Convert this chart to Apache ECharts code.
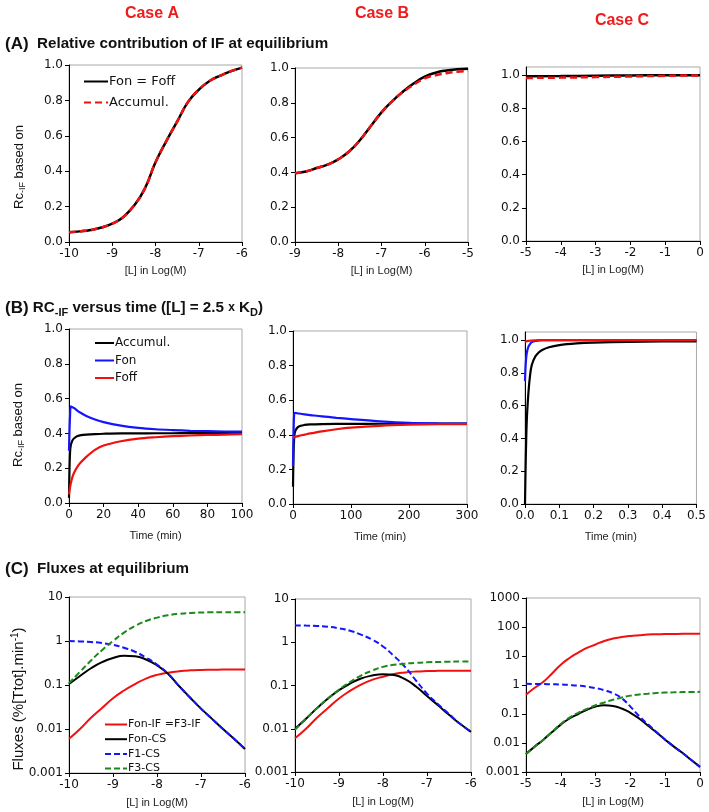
<!DOCTYPE html>
<html><head><meta charset="utf-8">
<script src="https://cdn.jsdelivr.net/npm/echarts@6/dist/echarts.min.js"></script>
<style>html,body{margin:0;padding:0;background:#fff}#c{width:709px;height:812px}</style>
</head><body><div id="c"></div>
<script>
// ---------- DATA ----------
// Row A: relative contribution of IF at equilibrium
const aX1 = [-10,-9.75,-9.5,-9.25,-9,-8.75,-8.5,-8.25,-8,-7.75,-7.5,-7.25,-7,-6.75,-6.5,-6.25,-6];
const aFon1 = [0.055,0.06,0.068,0.082,0.104,0.14,0.205,0.3,0.45,0.57,0.68,0.79,0.86,0.91,0.94,0.965,0.985];
const aAcc1 = [0.055,0.06,0.068,0.082,0.104,0.14,0.205,0.3,0.45,0.57,0.68,0.79,0.86,0.91,0.94,0.965,0.985];
const aX2 = [-9,-8.75,-8.5,-8.25,-8,-7.75,-7.5,-7.25,-7,-6.75,-6.5,-6.25,-6,-5.75,-5.5,-5.25,-5];
const aFon2 = [0.395,0.405,0.425,0.445,0.475,0.52,0.585,0.665,0.745,0.81,0.865,0.912,0.95,0.973,0.986,0.993,0.996];
const aAcc2 = [0.395,0.405,0.425,0.445,0.475,0.52,0.585,0.665,0.745,0.81,0.862,0.905,0.94,0.958,0.97,0.978,0.983];
const aX3 = [-5,-4,-3,-2,-1,0];
const aFon3 = [0.994,0.995,0.997,0.999,1.0,1.0];
const aAcc3 = [0.984,0.986,0.989,0.993,0.997,0.999];
// Row B: RC-IF versus time
const bT1 = [0,0.3,0.6,1,2,3,5,7,10,15,20,30,40,50,60,70,80,90,100];
const bAcc1 = [0.03,0.2,0.29,0.33,0.36,0.372,0.385,0.39,0.393,0.396,0.398,0.4,0.4,0.401,0.401,0.402,0.402,0.403,0.404];
const bFon1 = [0.3,0.42,0.5,0.555,0.55,0.545,0.53,0.517,0.5,0.48,0.465,0.445,0.432,0.424,0.419,0.415,0.413,0.411,0.41];
const bFoff1 = [0.05,0.07,0.09,0.11,0.15,0.175,0.21,0.235,0.265,0.305,0.33,0.355,0.37,0.378,0.384,0.388,0.391,0.393,0.395];
const bT2 = [0,1,2,3,5,10,20,30,50,75,100,150,200,250,300];
const bAcc2 = [0.1,0.3,0.38,0.41,0.43,0.448,0.457,0.46,0.462,0.463,0.463,0.464,0.464,0.465,0.465];
const bFon2 = [0.22,0.42,0.52,0.527,0.526,0.523,0.518,0.514,0.506,0.498,0.491,0.478,0.469,0.466,0.465];
const bFoff2 = [0.385,0.385,0.386,0.387,0.389,0.394,0.401,0.408,0.42,0.432,0.441,0.452,0.458,0.461,0.462];
const bT3 = [0,0.002,0.005,0.01,0.015,0.02,0.03,0.04,0.05,0.07,0.1,0.15,0.2,0.3,0.4,0.5];
const bAcc3 = [0,0.25,0.5,0.68,0.79,0.85,0.9,0.925,0.94,0.957,0.97,0.98,0.985,0.99,0.992,0.993];
const bFon3 = [0.75,0.85,0.92,0.96,0.978,0.988,0.995,0.998,1.0,1.0,1.0,1.0,1.0,1.0,1.0,1.0];
const bFoff3 = [0.99,0.992,0.994,0.996,0.997,0.998,0.999,1.0,1.0,1.0,1.0,1.0,1.0,1.0,1.0,1.0];
// Row C: fluxes at equilibrium
const cX1 = [-10,-9.75,-9.5,-9.25,-9,-8.75,-8.5,-8.25,-8,-7.75,-7.5,-7.25,-7,-6.75,-6.5,-6.25,-6];
const cIF1 = [0.006,0.01,0.018,0.03,0.05,0.075,0.105,0.14,0.17,0.19,0.205,0.215,0.22,0.222,0.224,0.225,0.225];
const cCS1 = [0.105,0.16,0.24,0.33,0.41,0.46,0.45,0.38,0.28,0.18,0.095,0.052,0.029,0.017,0.01,0.006,0.0035];
const cF1_1 = [1.0,0.98,0.95,0.9,0.82,0.7,0.57,0.42,0.29,0.18,0.095,0.052,0.029,0.017,0.01,0.006,0.0035];
const cF3_1 = [0.11,0.2,0.36,0.62,1.0,1.55,2.2,2.85,3.4,3.85,4.15,4.35,4.45,4.5,4.52,4.53,4.53];
const cX2 = [-10,-9.75,-9.5,-9.25,-9,-8.75,-8.5,-8.25,-8,-7.75,-7.5,-7.25,-7,-6.75,-6.5,-6.25,-6];
const cIF2 = [0.006,0.01,0.018,0.03,0.05,0.075,0.105,0.135,0.16,0.185,0.2,0.21,0.215,0.218,0.22,0.22,0.22];
const cCS2 = [0.01,0.017,0.03,0.05,0.078,0.11,0.145,0.17,0.183,0.175,0.14,0.095,0.057,0.035,0.021,0.013,0.0085];
const cF1_2 = [2.45,2.43,2.38,2.28,2.1,1.85,1.5,1.15,0.8,0.48,0.27,0.13,0.065,0.037,0.022,0.013,0.0085];
const cF3_2 = [0.0095,0.017,0.03,0.05,0.08,0.12,0.17,0.22,0.27,0.3,0.32,0.335,0.345,0.35,0.355,0.358,0.36];
const cX3 = [-5,-4.75,-4.5,-4.25,-4,-3.75,-3.5,-3.25,-3,-2.75,-2.5,-2.25,-2,-1.75,-1.5,-1.25,-1,-0.75,-0.5,-0.25,0];
const cIF3 = [0.46,0.8,1.3,2.5,5.0,8.5,13,19,25,33,40,45,49,52,55,56,57,57.5,58,58,58];
const cCS3 = [0.0042,0.0075,0.013,0.024,0.043,0.07,0.1,0.14,0.18,0.2,0.19,0.155,0.11,0.07,0.04,0.023,0.013,0.0075,0.0045,0.0026,0.0015];
const cF1_3 = [1.1,1.09,1.08,1.06,1.04,1.0,0.95,0.88,0.78,0.66,0.52,0.35,0.18,0.085,0.045,0.024,0.013,0.0075,0.0045,0.0026,0.0015];
const cF3_3 = [0.0042,0.0075,0.013,0.024,0.045,0.075,0.11,0.15,0.2,0.25,0.31,0.37,0.43,0.47,0.5,0.53,0.55,0.56,0.57,0.575,0.58];
// tick labels
const rcTicks = [0,0.2,0.4,0.6,0.8,1.0];

// ---------- CHART ----------
const TICKF = 'DejaVu Sans', TXTF = 'Liberation Sans';
const BLACK = '#000', RED = '#f01010', BLUE = '#1414ff', GREEN = '#1b8a1b';
const zip = (xs, ys) => xs.map((x, i) => [x, ys[i]]);

const grids = [
  {left:69, top:65, width:173, height:177},
  {left:295, top:68, width:173, height:174},
  {left:526, top:67, width:174, height:174},
  {left:69, top:329, width:173, height:174},
  {left:293, top:331, width:174, height:173},
  {left:525, top:332, width:174, height:172},
  {left:69, top:597, width:176, height:176},
  {left:295, top:599, width:176, height:173},
  {left:526, top:598, width:174, height:174}
].map(g => Object.assign(g, {show:true, borderColor:'#a8a8a8', borderWidth:1, containLabel:false}));

function xAx(i, min, max, interval, name, gap, fmt) {
  return {gridIndex:i, type:'value', min, max, interval,
    axisLine:{onZero:false, lineStyle:{color:'#000', width:1}},
    axisTick:{length:4, lineStyle:{color:'#000'}},
    axisLabel:{fontFamily:TICKF, fontSize:12, color:'#111', margin:6, formatter:fmt},
    splitLine:{show:false},
    name, nameLocation:'middle', nameGap:gap,
    nameTextStyle:{fontFamily:TXTF, fontSize:11, color:'#222'}};
}
function yLin(i, max, custom) {
  const ax = {gridIndex:i, type:'value', min:0, max, interval:0.2,
    axisLine:{onZero:false, lineStyle:{color:'#000', width:1}},
    axisTick:{length:4, lineStyle:{color:'#000'}},
    axisLabel:{fontFamily:TICKF, fontSize:12, color:'#111', margin:6, formatter:v => v.toFixed(1)},
    splitLine:{show:false}};
  if (custom) { ax.axisLabel.customValues = rcTicks; ax.axisTick.customValues = rcTicks; }
  return ax;
}
function yLog(i, max) {
  return {gridIndex:i, type:'log', logBase:10, min:0.001, max,
    axisLine:{onZero:false, lineStyle:{color:'#000', width:1}},
    axisTick:{length:4, lineStyle:{color:'#000'}},
    axisLabel:{fontFamily:TICKF, fontSize:12, color:'#111', margin:6, formatter:v => String(+(+v).toPrecision(2))},
    splitLine:{show:false}};
}
const intFmt = v => String(Math.round(v));
const t1Fmt = v => v.toFixed(1);
const LN = '[L] in Log(M)', TM = 'Time (min)';

const xAxis = [
  xAx(0,-10,-6,1,LN,23,intFmt), xAx(1,-9,-5,1,LN,23,intFmt), xAx(2,-5,0,1,LN,23,intFmt),
  xAx(3,0,100,20,TM,27,intFmt), xAx(4,0,300,100,TM,27,intFmt), xAx(5,0,0.5,0.1,TM,27,t1Fmt),
  xAx(6,-10,-6,1,LN,24,intFmt), xAx(7,-10,-6,1,LN,24,intFmt), xAx(8,-5,0,1,LN,24,intFmt)
];
const yAxis = [
  yLin(0,1.0), yLin(1,1.0), yLin(2,1.05,true),
  yLin(3,1.0), yLin(4,1.0), yLin(5,1.05,true),
  yLog(6,10), yLog(7,10), yLog(8,1000)
];

function ln(name, i, xs, ys, color, dash, w, sm) {
  return {type:'line', name, xAxisIndex:i, yAxisIndex:i, data:zip(xs, ys),
    symbol:'none', showSymbol:false, smooth: sm === undefined ? 0.5 : sm, silent:true, animation:false,
    lineStyle:{color, width:w || 2, type: dash || 'solid'}, itemStyle:{color}};
}
const DA = [7,4], DC = [6,3];
const series = [
  ln('A:Fon = Foff',0,aX1,aFon1,BLACK,null,2.5), ln('A:Accumul.',0,aX1,aAcc1,RED,DA,2.5),
  ln('a2:fon',1,aX2,aFon2,BLACK,null,2.5), ln('a2:acc',1,aX2,aAcc2,RED,DA,2.5),
  ln('a3:fon',2,aX3,aFon3,BLACK,null,2.5), ln('a3:acc',2,aX3,aAcc3,RED,DA,2.5),
  ln('B:Accumul.',3,bT1,bAcc1,BLACK,null,2.2,0.3), ln('B:Fon',3,bT1,bFon1,BLUE,null,2.2,0.3), ln('B:Foff',3,bT1,bFoff1,RED,null,2.2,0.3),
  ln('b2:acc',4,bT2,bAcc2,BLACK,null,2.2,0.3), ln('b2:fon',4,bT2,bFon2,BLUE,null,2.2,0.3), ln('b2:foff',4,bT2,bFoff2,RED,null,2.2,0.3),
  ln('b3:acc',5,bT3,bAcc3,BLACK,null,2.2,0.3), ln('b3:fon',5,bT3,bFon3,BLUE,null,2.2,0.3), ln('b3:foff',5,bT3,bFoff3,RED,null,2.2,0.3),
  ln('C:Fon-IF =F3-IF',6,cX1,cIF1,RED), ln('C:Fon-CS',6,cX1,cCS1,BLACK), ln('C:F1-CS',6,cX1,cF1_1,BLUE,DC), ln('C:F3-CS',6,cX1,cF3_1,GREEN,DC),
  ln('c2:if',7,cX2,cIF2,RED), ln('c2:cs',7,cX2,cCS2,BLACK), ln('c2:f1',7,cX2,cF1_2,BLUE,DC), ln('c2:f3',7,cX2,cF3_2,GREEN,DC),
  ln('c3:if',8,cX3,cIF3,RED), ln('c3:cs',8,cX3,cCS3,BLACK), ln('c3:f1',8,cX3,cF1_3,BLUE,DC), ln('c3:f3',8,cX3,cF3_3,GREEN,DC)
];

const lfmt = n => n.split(':')[1];
function lg(left, top, data, iw, ih, gap, fs) {
  return {left, top, orient:'vertical', data, itemWidth:iw, itemHeight:ih, itemGap:gap,
    selectedMode:false, formatter:lfmt, padding:0,
    itemStyle:{opacity:0, color:'transparent', borderWidth:0},
    textStyle:{fontFamily:TICKF, fontSize:fs, color:'#111', padding:[0,0,0,-4]}};
}
const legend = [
  lg(83, 75, ['A:Fon = Foff','A:Accumul.'], 24, 12, 8, 13),
  lg(94, 337, ['B:Accumul.','B:Fon','B:Foff'], 19, 12, 5.5, 12),
  lg(104, 719, ['C:Fon-IF =F3-IF','C:Fon-CS','C:F1-CS','C:F3-CS'], 22, 10, 3.7, 11)
];

const sub = {fontFamily:TXTF, fontSize:9, fill:'#111', verticalAlign:'bottom', lineHeight:8};
const main13 = {fontFamily:TXTF, fontSize:13, fill:'#111', lineHeight:16};
function yTitle(x, y) {
  return {type:'text', x, y, rotation:Math.PI/2, silent:true,
    style:{text:'{m|Rc}{s|-IF}{m| based on}', align:'center', verticalAlign:'middle',
      rich:{m:main13, s:sub}}};
}
const hb = {fontFamily:TXTF, fontSize:17, fontWeight:'bold', fill:'#111', lineHeight:20};
const hm = {fontFamily:TXTF, fontSize:15.2, fontWeight:'bold', fill:'#111', lineHeight:20};
const hs = {fontFamily:TXTF, fontSize:11, fontWeight:'bold', fill:'#111', verticalAlign:'bottom', lineHeight:10};
const hx = {fontFamily:TXTF, fontSize:12, fontWeight:'bold', fill:'#111', lineHeight:20};
function header(y, text) {
  return {type:'text', x:5, y, silent:true,
    style:{text, align:'left', verticalAlign:'middle', rich:{b:hb, m:hm, s:hs, x:hx}}};
}
function caseT(x, y, t) {
  return {type:'text', x, y, silent:true,
    style:{text:t, fill:'#ee1c1c', font:'bold 16px "Liberation Sans"', align:'center', verticalAlign:'middle'}};
}
const graphic = [
  caseT(152, 14, 'Case A'), caseT(382, 14, 'Case B'), caseT(622, 21, 'Case C'),
  header(44, '{b|(A)}{m|  Relative contribution of IF at equilibrium}'),
  header(308, '{b|(B)}{m| RC}{s|-IF}{m| versus time ([L] = 2.5 }{x|x}{m| K}{s|D}{m|)}'),
  header(569, '{b|(C)}{m|  Fluxes at equilibrium}'),
  yTitle(19, 167), yTitle(18, 425),
  {type:'text', x:19, y:699, rotation:Math.PI/2, silent:true,
    style:{text:'{m|Fluxes (%[Ttot].min}{p|-1}{m|)}', align:'center', verticalAlign:'middle',
      rich:{m:{fontFamily:TXTF, fontSize:15, fill:'#111', lineHeight:18},
            p:{fontFamily:TXTF, fontSize:10, fill:'#111', verticalAlign:'top', lineHeight:9}}}}
];

const chart = echarts.init(document.getElementById('c'), null, {renderer:'canvas'});
chart.setOption({animation:false, backgroundColor:'#fff', grid:grids, xAxis, yAxis, series, legend, graphic});
</script></body></html>
